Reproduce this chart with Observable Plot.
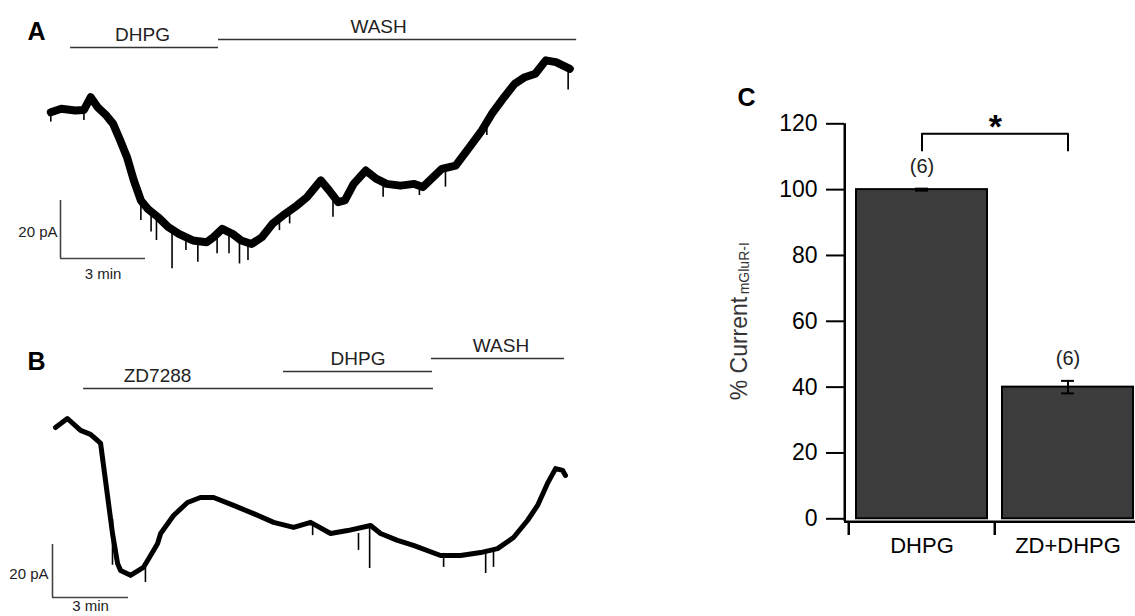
<!DOCTYPE html>
<html>
<head>
<meta charset="utf-8">
<script src="https://cdn.jsdelivr.net/npm/d3@7"></script>
<script src="https://cdn.jsdelivr.net/npm/@observablehq/plot@0.6"></script>
<style>
  html, body { margin: 0; padding: 0; background: #fff; overflow: hidden; }
  #fig { position: relative; width: 1135px; height: 616px; overflow: hidden; }
  #fig > svg { position: absolute; }
</style>
</head>
<body>
<div id="fig"></div>
<script>
// ---------- Panel A: holding current, DHPG then washout (min, pA re. baseline) ----------
const traceA_t  = [0.01, 0.38, 0.87, 1.18, 1.42, 1.66, 1.97, 2.21, 2.46, 2.70, 2.94, 3.19, 3.43, 3.80, 4.16, 4.53, 5.02, 5.51, 5.75, 6.06, 6.42, 6.73, 7.10, 7.46, 7.83, 8.20, 8.69, 9.05, 9.54, 9.84, 10.15, 10.39, 10.70, 11.13, 11.49, 11.86, 12.35, 12.84, 13.14, 13.45, 13.81, 14.30, 14.79, 15.22, 15.58, 16.01, 16.38, 16.74, 17.11, 17.48, 17.84, 18.33];
const traceA_pA = [-1.3, -0.1, -0.7, -0.5, 3.9, 0.5, -2.4, -5.3, -11.0, -16.8, -24.8, -31.7, -34.6, -37.5, -40.9, -43.2, -45.5, -46.1, -44.4, -41.5, -43.2, -45.5, -46.7, -44.4, -39.8, -36.9, -33.5, -30.6, -24.8, -28.3, -32.3, -31.7, -26.0, -21.4, -24.2, -26.0, -26.6, -26.0, -27.1, -24.2, -20.8, -19.7, -13.3, -7.6, -1.8, 3.9, 8.5, 10.8, 12.0, 16.6, 16.0, 13.7];
const spikesA_t      = [0.01, 1.18, 3.19, 3.55, 3.74, 4.29, 4.78, 5.20, 5.88, 6.30, 6.67, 6.97, 8.08, 8.44, 9.97, 11.74, 13.02, 13.94, 15.40, 18.27];
const spikesA_top    = [-1.3, -0.5, -31.7, -35.8, -37.0, -41.7, -44.5, -45.8, -43.2, -42.6, -45.1, -46.2, -37.8, -35.0, -30.5, -25.5, -26.7, -20.5, -4.7, 13.9];
const spikesA_bottom = [-4.7, -4.1, -38.6, -42.6, -45.5, -55.3, -49.0, -53.0, -50.1, -50.1, -53.6, -52.4, -42.1, -39.8, -37.5, -30.6, -30.0, -27.1, -9.3, 6.4];
const drugsA_label = ["DHPG", "WASH"];
const drugsA_start = [0.71, 5.93];
const drugsA_end   = [5.93, 18.57];

// ---------- Panel B: ZD7288 pre-application, then DHPG, then washout ----------
const traceB_t  = [0, 0.47, 0.99, 1.38, 1.66, 1.78, 2.25, 2.45, 2.57, 2.96, 3.47, 3.87, 4.03, 4.15, 4.66, 5.21, 5.72, 6.24, 7.03, 7.82, 8.61, 9.40, 10.07, 10.86, 11.53, 12.44, 12.83, 13.50, 14.13, 15.20, 15.99, 16.78, 17.45, 18.08, 18.63, 19.03, 19.42, 19.74, 20.02, 20.13];
const traceB_pA = [0, 3.4, -1.1, -2.6, -4.9, -6.0, -40.0, -51.3, -54.0, -55.8, -52.8, -46.4, -43.8, -40.0, -33.2, -28.3, -26.4, -26.4, -29.4, -32.5, -35.8, -37.7, -35.8, -40.0, -38.9, -37.0, -40.0, -42.6, -44.5, -48.3, -48.3, -47.2, -45.7, -41.5, -35.1, -29.4, -21.1, -15.5, -16.2, -18.1];
const spikesB_t      = [2.25, 3.55, 10.15, 11.96, 12.40, 15.32, 16.98, 17.29];
const spikesB_top    = [-34.7, -52.8, -36.2, -40, -37.7, -47.5, -46.4, -46.4];
const spikesB_bottom = [-52, -58.5, -40.8, -46.4, -53.2, -52.8, -55.1, -52.8];
const drugsB_label = ["ZD7288", "DHPG", "WASH"];
const drugsB_start = [1.11, 9.0, 14.84];
const drugsB_end   = [14.92, 14.88, 20.09];

// Calibration bars
const scaleMin = 3;
const scalePA = 20;

// ---------- Panel C: mGluR-I current, % of DHPG response ----------
const groups = ["DHPG", "ZD+DHPG"];
const meanPct = [100, 40];
const semPct = [0.3, 1.9];
const nCells = [6, 6];
const yTicksC = [0, 20, 40, 60, 80, 100, 120];

const FONT = '"Liberation Sans", Arial, Helvetica, sans-serif';
const fig = document.getElementById("fig");
function place(svg, left, top) {
  svg.style.left = left + "px";
  svg.style.top = top + "px";
  fig.appendChild(svg);
}

// One current trace with drug-application bars and calibration bars
function tracePanel(cfg) {
  const {W, H, x0, y0, pxPerMin, pxPerPA} = cfg;
  const tAt = px => (px - x0) / pxPerMin;   // svg x -> minutes
  const iAt = px => (y0 - px) / pxPerPA;    // svg y -> pA
  const trace = cfg.t.map((t, k) => ({t, pA: cfg.pA[k]}));
  const spikes = cfg.spikeT.map((t, k) => ({t, top: cfg.spikeTop[k], bottom: cfg.spikeBottom[k]}));
  const drugs = cfg.label.map((label, k) => ({
    label, start: cfg.start[k], end: cfg.end[k],
    level: iAt(cfg.rowPx[k]),
    labelT: (cfg.start[k] + cfg.end[k]) / 2 + cfg.labelShiftPx[k] / pxPerMin
  }));
  const sb = {t: tAt(cfg.corner[0]), pA: iAt(cfg.corner[1])};
  return Plot.plot({
    width: W, height: H,
    marginTop: 0, marginRight: 0, marginBottom: 0, marginLeft: 0,
    style: {fontFamily: FONT, background: "transparent", overflow: "visible"},
    x: {domain: [tAt(0), tAt(W)], range: [0, W], axis: null},
    y: {domain: [iAt(H), iAt(0)], range: [H, 0], axis: null},
    marks: [
      // drug application bars and names
      Plot.ruleY(drugs, {y: "level", x1: "start", x2: "end", stroke: "#333", strokeWidth: 1.6}),
      Plot.text(drugs, {x: "labelT", y: "level", text: "label", lineAnchor: "bottom", dy: -7,
        fontSize: 19, fill: "#222"}),
      // recorded current
      Plot.ruleX(spikes, {x: "t", y1: "top", y2: "bottom", stroke: "#000", strokeWidth: 1.6}),
      Plot.line(trace, {x: "t", y: "pA", stroke: "#000", strokeWidth: cfg.traceWidth,
        strokeLinejoin: "round", strokeLinecap: "round"}),
      // calibration: 20 pA, 3 min
      Plot.ruleX([sb], {x: "t", y1: "pA", y2: d => d.pA + scalePA, stroke: "#444", strokeWidth: 1.6}),
      Plot.ruleY([sb], {y: "pA", x1: "t", x2: d => d.t + scaleMin, stroke: "#444", strokeWidth: 1.6}),
      Plot.text([sb], {x: "t", y: d => d.pA + scalePA / 2, text: () => `${scalePA} pA`,
        textAnchor: "end", dx: cfg.pALabelDx, dy: 3, fontSize: 15, fill: "#222"}),
      Plot.text([sb], {x: d => d.t + scaleMin / 2, y: "pA", text: () => `${scaleMin} min`,
        lineAnchor: "top", dy: cfg.minLabelDy, fontSize: 15, fill: "#222"}),
      // panel letter
      Plot.text([cfg.letter], {text: d => d, frameAnchor: "top-left", dx: 27, dy: cfg.letterTop,
        lineAnchor: "top", textAnchor: "start", fontSize: 25, fontWeight: "bold", fill: "#000"})
    ]
  });
}

place(tracePanel({
  letter: "A", letterTop: 22,
  W: 620, H: 300, x0: 50, y0: 108, pxPerMin: 85 / 3, pxPerPA: 58 / 20,
  t: traceA_t, pA: traceA_pA,
  spikeT: spikesA_t, spikeTop: spikesA_top, spikeBottom: spikesA_bottom,
  label: drugsA_label, start: drugsA_start, end: drugsA_end,
  rowPx: [47, 39], labelShiftPx: [-2, -19],
  corner: [60, 258], pALabelDx: -3, minLabelDy: 10, traceWidth: 8
}), 0, 0);

place(tracePanel({
  letter: "B", letterTop: 52,
  W: 620, H: 316, x0: 55, y0: 127, pxPerMin: 76 / 3, pxPerPA: 53 / 20,
  t: traceB_t, pA: traceB_pA,
  spikeT: spikesB_t, spikeTop: spikesB_top, spikeBottom: spikesB_bottom,
  label: drugsB_label, start: drugsB_start, end: drugsB_end,
  rowPx: [88, 71, 58], labelShiftPx: [-101, 0, 3],
  corner: [52, 297], pALabelDx: -4, minLabelDy: 3, traceWidth: 5
}), 0, 300);

// ---------- Panel C ----------
(function () {
  const W = 441, H = 540, left = 700, top = 60;
  const yBase = 458.3, yTop = 63.3, xStart = 148;
  const pad = {inner: 0.105, outer: 0.0525};
  const ppu = (yBase - yTop) / 120;
  const vAt = px => (yBase - px) / ppu;          // svg y -> percent
  const band = d3.scaleBand().domain(groups).range([xStart, W])
    .paddingInner(pad.inner).paddingOuter(pad.outer);
  const step = band.step(), bw = band.bandwidth();
  const firstCenter = band(groups[0]) + bw / 2;
  const axisX = 144;                              // svg x of the value axis line
  const rows = groups.map((group, k) => ({group, mean: meanPct[k], sem: semPct[k], n: nCells[k]}));
  const capInset = (bw - 13) / 2;
  const bracket = [
    {g: groups[0], v: vAt(90)}, {g: groups[0], v: vAt(73.3)},
    {g: groups[1], v: vAt(73.3)}, {g: groups[1], v: vAt(90)}
  ];
  const svg = Plot.plot({
    width: W, height: H,
    marginTop: yTop, marginBottom: H - yBase, marginLeft: xStart, marginRight: 0,
    style: {fontFamily: FONT, background: "transparent", overflow: "visible", color: "#000"},
    x: {type: "band", domain: groups, range: [xStart, W], paddingInner: pad.inner, paddingOuter: pad.outer},
    y: {domain: [0, 120], range: [yBase, yTop]},
    marks: [
      Plot.barY(rows, {x: "group", y: "mean", fill: "#3c3c3c", stroke: "#000", strokeWidth: 2}),
      Plot.ruleX(rows, {x: "group", y1: d => d.mean - d.sem, y2: d => d.mean + d.sem, stroke: "#000", strokeWidth: 2}),
      Plot.tickY(rows, {x: "group", y: d => d.mean + d.sem, insetLeft: capInset, insetRight: capInset, stroke: "#000", strokeWidth: 2}),
      Plot.tickY(rows, {x: "group", y: d => d.mean - d.sem, insetLeft: capInset, insetRight: capInset, stroke: "#000", strokeWidth: 2}),
      Plot.text(rows, {x: "group", y: d => d.mean + d.sem, text: d => `(${d.n})`, dy: -22,
        lineAnchor: "middle", fontSize: 20, fill: "#222"}),
      // significance bracket
      Plot.line(bracket, {x: "g", y: "v", stroke: "#000", strokeWidth: 2}),
      Plot.text(["*"], {x: () => groups[0], y: () => vAt(73.3), text: d => d, dx: step / 2, dy: 4,
        lineAnchor: "bottom", fontSize: 34, fontWeight: "bold", fill: "#000"}),
      // axes
      Plot.ruleY([0], {dy: 3, insetLeft: -4, stroke: "#000", strokeWidth: 2.5}),
      Plot.ruleX([groups[0]], {x: d => d, dx: axisX - firstCenter, y1: vAt(461), y2: 120, stroke: "#000", strokeWidth: 2.5}),
      Plot.ruleX(groups, {x: d => d, dx: -step / 2, y1: vAt(461), y2: vAt(475), stroke: "#000", strokeWidth: 2.5}),
      Plot.axisY({ticks: yTicksC, tickSize: 18, tickPadding: 9, dx: -4, fontSize: 23, strokeWidth: 2, label: null}),
      Plot.axisX({tickSize: 0, tickPadding: 19, fontSize: 22, label: null}),
      Plot.text(["% Current"], {text: d => d, frameAnchor: "left", dx: -102, dy: 79, rotate: -90,
        textAnchor: "start", lineAnchor: "bottom", fontSize: 23, fill: "#333"}),
      Plot.text(["mGluR-I"], {text: d => d, frameAnchor: "left", dx: -100, dy: -27, rotate: -90,
        textAnchor: "start", lineAnchor: "bottom", fontSize: 14, fill: "#333"}),
      Plot.text(["C"], {text: d => d, frameAnchor: "top-left", dx: 37 - xStart, dy: 28 - yTop,
        lineAnchor: "top", textAnchor: "start", fontSize: 25, fontWeight: "bold", fill: "#000"})
    ]
  });
  place(svg, left, top);
})();
</script>
</body>
</html>
